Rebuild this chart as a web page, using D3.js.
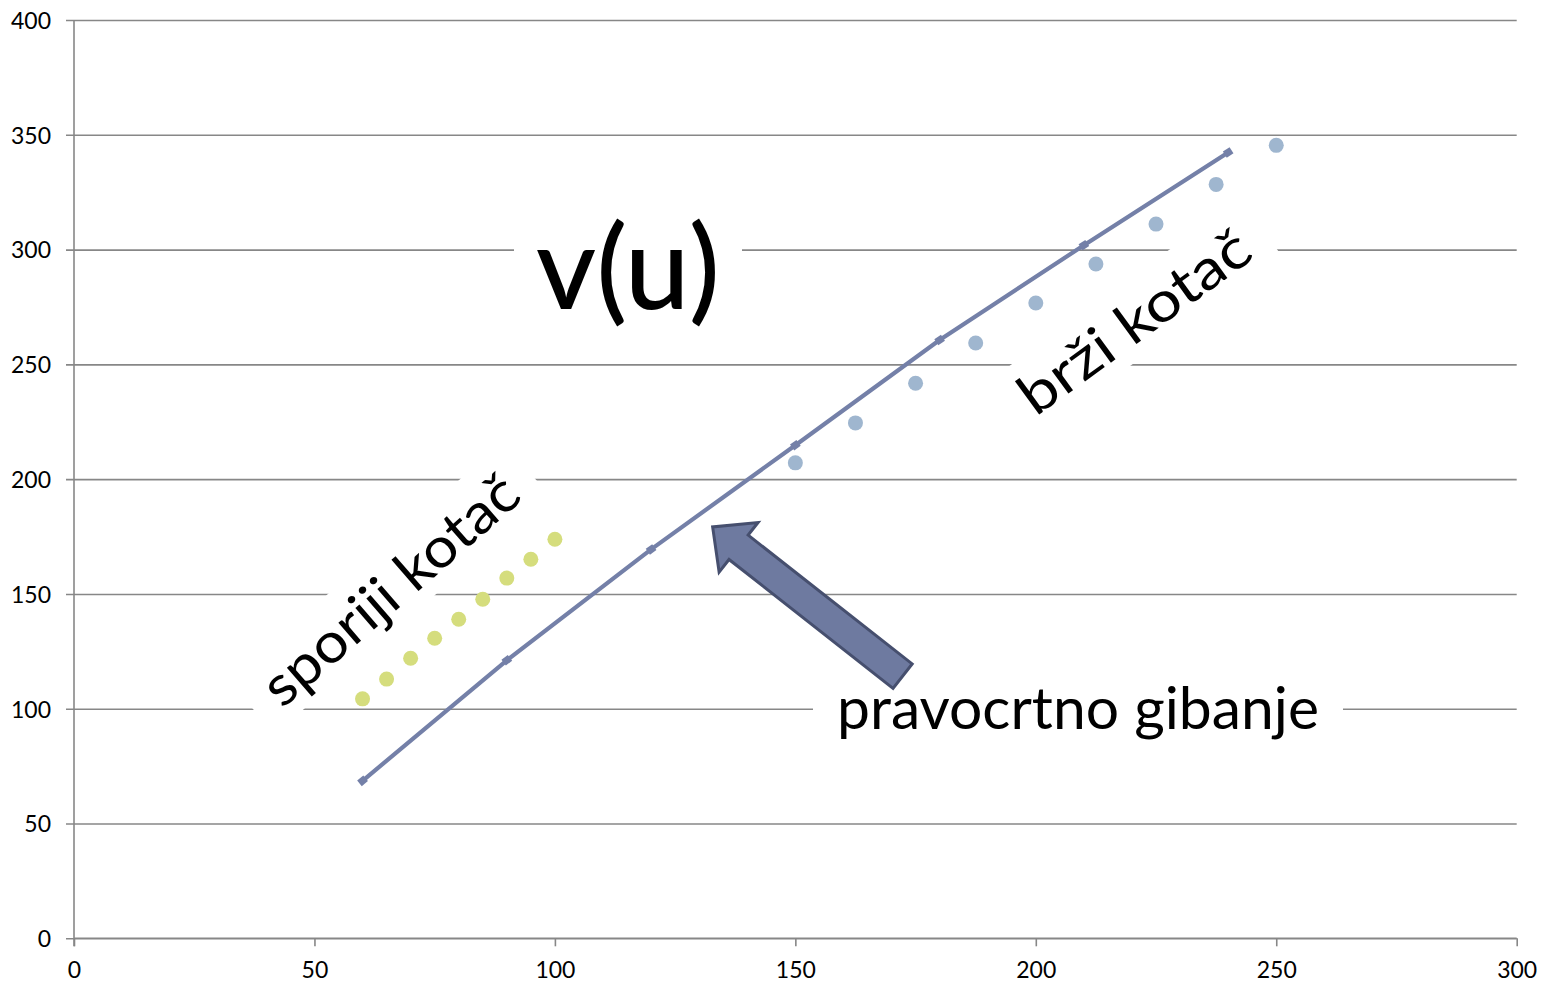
<!DOCTYPE html>
<html>
<head>
<meta charset="utf-8">
<script src="https://cdn.jsdelivr.net/npm/d3@7"></script>
<style>
  html, body { margin: 0; padding: 0; background: #fff; }
  svg { display: block; font-family: Lato, "Open Sans", sans-serif; }
</style>
</head>
<body>
<svg id="chart" width="1547" height="984"></svg>
<script>
// Straight-line motion v(u)
const lineU = [60, 90, 120, 150, 180, 210, 240];
const lineV = [68.6, 121.1, 169.4, 214.8, 260.6, 301.9, 342.3];

// Slower wheel
const slowU = [60, 65, 70, 75, 80, 85, 90, 95, 100];
const slowV = [104.3, 112.9, 122.0, 130.7, 139.0, 147.7, 156.9, 165.1, 173.8];

// Faster wheel
const fastU = [150, 162.5, 175, 187.5, 200, 212.5, 225, 237.5, 250];
const fastV = [207.1, 224.5, 241.8, 259.3, 276.7, 293.7, 311.1, 328.4, 345.4];

const xTicks = [0, 50, 100, 150, 200, 250, 300];
const yTicks = [0, 50, 100, 150, 200, 250, 300, 350, 400];

const svg = d3.select("#chart");
const W = 1547, H = 984;
const m = { left: 74, right: 30.3, top: 20, bottom: 45.7 };

const x = d3.scaleLinear().domain([0, 300]).range([m.left, W - m.right]);
const y = d3.scaleLinear().domain([0, 400]).range([H - m.bottom, m.top]);

const gridColor = "#878787";
const fontFamily = "Lato, 'Open Sans', sans-serif";

// horizontal gridlines with outside tick stubs
const yAxis = d3.axisLeft(y).tickValues(yTicks).tickSize(-(W - m.left - m.right)).tickPadding(16).tickFormat(d3.format("d"));
const gy = svg.append("g").attr("transform", `translate(${m.left},0)`).call(yAxis)
  .attr("font-family", fontFamily);
gy.select(".domain").remove();
gy.selectAll(".tick line").attr("stroke", gridColor).attr("stroke-width", 1.6).attr("x1", -8);
gy.selectAll(".tick text").attr("font-size", 23).attr("fill", "#000").attr("x", -23).attr("dy", "0.36em");

const xAxis = d3.axisBottom(x).tickValues(xTicks).tickSize(8).tickPadding(15).tickFormat(d3.format("d"));
const gx = svg.append("g").attr("transform", `translate(0,${y(0)})`).call(xAxis)
  .attr("font-family", fontFamily);
gx.select(".domain").attr("stroke", gridColor).attr("stroke-width", 1.6).attr("d", `M${x(0)},0H${x(300)}`);
gx.selectAll(".tick line").attr("stroke", gridColor).attr("stroke-width", 1.6);
gx.selectAll(".tick text").attr("font-size", 23).attr("fill", "#000");

// vertical axis line
svg.append("line")
  .attr("x1", x(0)).attr("x2", x(0))
  .attr("y1", y(400)).attr("y2", y(0) + 8)
  .attr("stroke", gridColor).attr("stroke-width", 1.6);

// text label with a white panel behind it
function label(cx, cy, angle, txt, size, len, padX, padY, weight) {
  const g = svg.append("g").attr("transform", `translate(${cx},${cy}) rotate(${angle})`);
  const r = g.append("rect").attr("fill", "#fff");
  const t = g.append("text")
    .attr("text-anchor", "middle")
    .attr("dominant-baseline", "central")
    .attr("font-size", size)
    .attr("font-weight", weight || 400)
    .attr("fill", "#000")
    .attr("textLength", len)
    .attr("lengthAdjust", "spacingAndGlyphs")
    .text(txt);
  const b = t.node().getBBox();
  r.attr("x", -len / 2 - padX).attr("y", b.y - padY)
   .attr("width", len + 2 * padX).attr("height", b.height + 2 * padY);
  return g;
}

label(628, 264, 0, "v(u)", 116, 184, 22, 0, 500);
label(1078, 706, 0, "pravocrtno gibanje", 58, 482, 24, 0);
label(389, 588, -41, "sporiji kotač", 56, 320, 22, 2);
label(1133, 320, -36, "brži kotač", 56, 272, 22, 2);

// slower-wheel points
svg.append("g").selectAll("circle")
  .data(slowU.map((u, i) => [u, slowV[i]]))
  .join("circle")
  .attr("cx", d => x(d[0])).attr("cy", d => y(d[1]))
  .attr("r", 7.5).attr("fill", "#D5DD7D");

// faster-wheel points
svg.append("g").selectAll("circle")
  .data(fastU.map((u, i) => [u, fastV[i]]))
  .join("circle")
  .attr("cx", d => x(d[0])).attr("cy", d => y(d[1]))
  .attr("r", 7.5).attr("fill", "#9FB6CF");

// straight-line motion
const linePts = lineU.map((u, i) => [u, lineV[i]]);
const lineColor = "#7480A8";
svg.append("path")
  .datum(linePts)
  .attr("fill", "none")
  .attr("stroke", lineColor)
  .attr("stroke-width", 4.2)
  .attr("d", d3.line().x(d => x(d[0])).y(d => y(d[1])));

svg.append("g").selectAll("rect")
  .data(linePts)
  .join("rect")
  .attr("x", -4).attr("y", -3.6).attr("width", 8).attr("height", 7.2)
  .attr("fill", lineColor)
  .attr("transform", (d, i) => {
    const j = Math.min(i + 1, linePts.length - 1), k = Math.max(j - 1, 0);
    const a = Math.atan2(y(linePts[j][1]) - y(linePts[k][1]), x(linePts[j][0]) - x(linePts[k][0])) * 180 / Math.PI;
    return `translate(${x(d[0])},${y(d[1])}) rotate(${a})`;
  });

// block arrow pointing at the straight-line series
const arrowTip = [132.8, 179.2];
const arrowTail = [172.3, 114.2];
(function drawArrow() {
  const tx = x(arrowTip[0]), ty = y(arrowTip[1]);
  const bx = x(arrowTail[0]), by = y(arrowTail[1]);
  const L = Math.hypot(tx - bx, ty - by);
  const shaftW = 31, headW = 63, headL = 33;
  const pts = [
    [0, -shaftW / 2], [L - headL, -shaftW / 2], [L - headL, -headW / 2], [L, 0],
    [L - headL, headW / 2], [L - headL, shaftW / 2], [0, shaftW / 2]
  ];
  const ang = Math.atan2(ty - by, tx - bx) * 180 / Math.PI;
  svg.append("polygon")
    .attr("points", pts.map(p => p.join(",")).join(" "))
    .attr("transform", `translate(${bx},${by}) rotate(${ang})`)
    .attr("fill", "#6E7AA0")
    .attr("stroke", "#464F6E")
    .attr("stroke-width", 3)
    .attr("stroke-linejoin", "miter");
})();
</script>
</body>
</html>
